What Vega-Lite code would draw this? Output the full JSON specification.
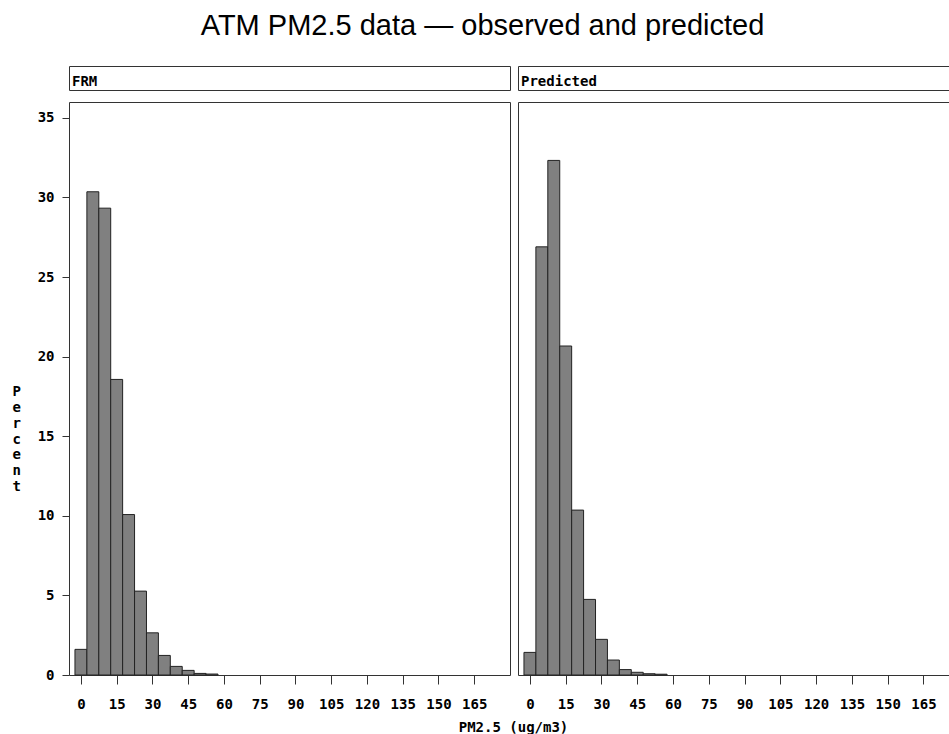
{
  "$schema": "https://vega.github.io/schema/vega-lite/v6.json",
  "padding": {"left": 11, "top": 11, "right": 0, "bottom": 0},
  "background": "white",
  "title": {
    "text": "ATM PM2.5 data — observed and predicted",
    "font": "Liberation Sans",
    "fontSize": 29,
    "fontWeight": "normal",
    "color": "black",
    "anchor": "middle",
    "frame": "bounds",
    "baseline": "top",
    "offset": 25,
    "dx": 2
  },
  "config": {
    "view": {"stroke": "#333", "strokeWidth": 1},
    "axis": {
      "labelFont": "DejaVu Sans Mono",
      "labelFontSize": 14,
      "labelFontWeight": "bold",
      "labelColor": "black",
      "titleFont": "DejaVu Sans Mono",
      "titleFontSize": 14,
      "titleFontWeight": "bold",
      "titleColor": "black",
      "tickColor": "#333",
      "domain": false,
      "grid": false
    }
  },
  "datasets": {
    "frm": [
      {"lo": -2.5, "hi": 2.5, "pct": 1.61},
      {"lo": 2.5, "hi": 7.5, "pct": 30.36},
      {"lo": 7.5, "hi": 12.5, "pct": 29.33},
      {"lo": 12.5, "hi": 17.5, "pct": 18.57},
      {"lo": 17.5, "hi": 22.5, "pct": 10.08},
      {"lo": 22.5, "hi": 27.5, "pct": 5.27},
      {"lo": 27.5, "hi": 32.5, "pct": 2.65},
      {"lo": 32.5, "hi": 37.5, "pct": 1.23},
      {"lo": 37.5, "hi": 42.5, "pct": 0.54},
      {"lo": 42.5, "hi": 47.5, "pct": 0.29},
      {"lo": 47.5, "hi": 52.5, "pct": 0.1},
      {"lo": 52.5, "hi": 57.5, "pct": 0.06}
    ],
    "pred": [
      {"lo": -2.5, "hi": 2.5, "pct": 1.42},
      {"lo": 2.5, "hi": 7.5, "pct": 26.9},
      {"lo": 7.5, "hi": 12.5, "pct": 32.33},
      {"lo": 12.5, "hi": 17.5, "pct": 20.67},
      {"lo": 17.5, "hi": 22.5, "pct": 10.36},
      {"lo": 22.5, "hi": 27.5, "pct": 4.75},
      {"lo": 27.5, "hi": 32.5, "pct": 2.24},
      {"lo": 32.5, "hi": 37.5, "pct": 0.94},
      {"lo": 37.5, "hi": 42.5, "pct": 0.34},
      {"lo": 42.5, "hi": 47.5, "pct": 0.17},
      {"lo": 47.5, "hi": 52.5, "pct": 0.08},
      {"lo": 52.5, "hi": 57.5, "pct": 0.05}
    ]
  },
  "columns": 2,
  "spacing": {"row": 12, "column": 8},
  "bounds": "flush",
  "concat": [
    {
      "width": 441,
      "height": 24,
      "data": {"values": [{"label": "FRM"}]},
      "mark": {"type": "text", "align": "left", "baseline": "middle", "font": "DejaVu Sans Mono", "fontSize": 14, "fontWeight": "bold", "color": "black", "dx": 3, "dy": 4},
      "encoding": {
        "x": {"datum": 0, "type": "quantitative", "scale": {"domain": [0, 1]}, "axis": null},
        "text": {"field": "label"}
      }
    },
    {
      "width": 431,
      "height": 24,
      "data": {"values": [{"label": "Predicted"}]},
      "mark": {"type": "text", "align": "left", "baseline": "middle", "font": "DejaVu Sans Mono", "fontSize": 14, "fontWeight": "bold", "color": "black", "dx": 3, "dy": 4},
      "encoding": {
        "x": {"datum": 0, "type": "quantitative", "scale": {"domain": [0, 1]}, "axis": null},
        "text": {"field": "label"}
      }
    },
    {
      "width": 441,
      "height": 573,
      "data": {"name": "frm"},
      "mark": {"type": "rect", "fill": "#808080", "stroke": "#222", "strokeWidth": 1},
      "encoding": {
        "x": {
          "field": "lo", "type": "quantitative",
          "scale": {"domain": [-5, 180], "nice": false, "zero": false},
          "axis": {
            "values": [0, 15, 30, 45, 60, 75, 90, 105, 120, 135, 150, 165],
            "tickSize": 9, "labelPadding": 13, "labelBaseline": "top",
            "title": "PM2.5 (ug/m3)", "titleX": 444, "titleY": 56,
            "titleAlign": "center", "titleBaseline": "alphabetic"
          }
        },
        "x2": {"field": "hi"},
        "y": {
          "field": "pct", "type": "quantitative",
          "scale": {"domain": [0, 36], "nice": false},
          "axis": {
            "values": [0, 5, 10, 15, 20, 25, 30, 35],
            "tickSize": 7, "labelPadding": 8, "labelBaseline": "middle",
            "title": ["P", "e", "r", "c", "e", "n", "t"],
            "titleAngle": 0, "titleAlign": "center", "titleBaseline": "middle",
            "titleX": -52.7, "titleY": 289.8, "titleLineHeight": 15.8
          }
        },
        "y2": {"datum": 0}
      }
    },
    {
      "width": 431,
      "height": 573,
      "data": {"name": "pred"},
      "mark": {"type": "rect", "fill": "#808080", "stroke": "#222", "strokeWidth": 1},
      "encoding": {
        "x": {
          "field": "lo", "type": "quantitative",
          "scale": {"domain": [-5, 175.7], "nice": false, "zero": false},
          "axis": {
            "values": [0, 15, 30, 45, 60, 75, 90, 105, 120, 135, 150, 165],
            "tickSize": 9, "labelPadding": 13, "labelBaseline": "top",
            "title": null
          }
        },
        "x2": {"field": "hi"},
        "y": {
          "field": "pct", "type": "quantitative",
          "scale": {"domain": [0, 36], "nice": false},
          "axis": null
        },
        "y2": {"datum": 0}
      }
    }
  ]
}
